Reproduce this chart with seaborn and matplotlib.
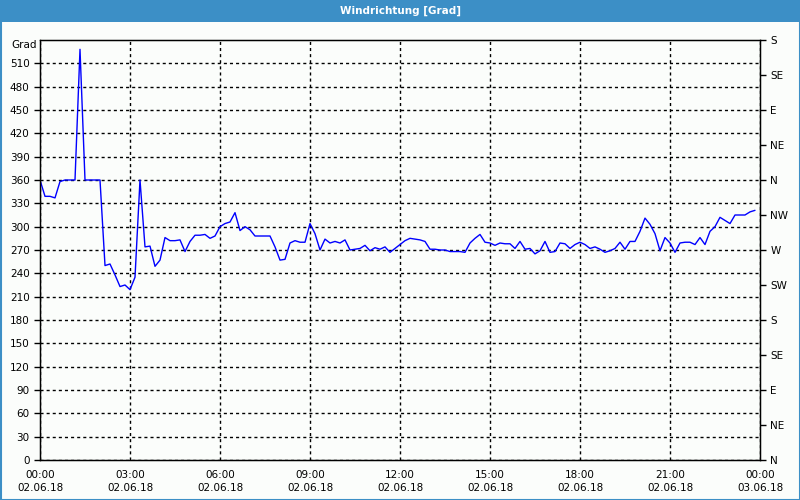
import pandas as pd
import matplotlib
matplotlib.use('Agg')
import matplotlib.pyplot as plt
import matplotlib.dates as mdates
import seaborn as sns

# Wind direction in degrees, every 10 minutes, 02.06.18 00:00 - 23:50
grad = [360, 339, 339, 337, 358, 360, 360, 360, 528, 360,
        360, 360, 360, 250, 252, 238, 223, 225, 219, 235,
        360, 274, 275, 249, 257, 286, 282, 282, 283, 268,
        281, 289, 289, 290, 285, 288, 300, 304, 306, 318,
        295, 300, 296, 288, 288, 288, 288, 274, 257, 258,
        279, 282, 280, 280, 304, 291, 270, 284, 279, 281,
        279, 283, 270, 271, 272, 276, 269, 273, 271, 274,
        267, 272, 277, 282, 285, 284, 283, 281, 271, 271,
        270, 270, 268, 268, 268, 267, 279, 285, 290, 280,
        279, 276, 279, 278, 278, 272, 281, 271, 272, 265,
        269, 281, 267, 268, 279, 278, 272, 277, 280, 277,
        272, 274, 271, 267, 269, 272, 280, 271, 281, 281,
        294, 311, 303, 291, 269, 286, 279, 267, 279, 280,
        280, 277, 286, 277, 294, 300, 312, 308, 304, 315,
        315, 315, 319, 321]
zeit = pd.date_range('2018-06-02 00:00', periods=len(grad), freq='10min')

left_ticks = list(range(0, 511, 30))
right_ticks = list(range(0, 541, 45))
right_labels = ['N', 'NE', 'E', 'SE', 'S', 'SW', 'W', 'NW', 'N', 'NE', 'E', 'SE', 'S']

df = pd.DataFrame({'Zeit': zeit, 'Grad': grad})

sns.set_style('white')
plt.rcParams['font.family'] = ['DejaVu Sans']

bg = '#fbfdfb'
blue_bar = '#3c8fc6'
dash = (0, (2.2, 2.2))

fig = plt.figure(figsize=(8, 5), dpi=100, facecolor=bg)
ax = fig.add_axes([0.05, 0.08, 0.90, 0.84])
ax.set_facecolor(bg)

sns.lineplot(data=df, x='Zeit', y='Grad', ax=ax, color='#0000ff', linewidth=1)

start = pd.Timestamp('2018-06-02 00:00')
end = pd.Timestamp('2018-06-03 00:00')
ax.set_xlim(start, end)
ax.set_ylim(0, 540)

ax.set_yticks(left_ticks)
ax.xaxis.set_major_locator(mdates.HourLocator(interval=3))
ax.xaxis.set_minor_locator(mdates.HourLocator(interval=1))
ax.xaxis.set_major_formatter(mdates.DateFormatter('%H:%M\n%d.%m.%y'))

ax.grid(True, which='major', color='black', linestyle=dash, linewidth=1)
ax.set_xlabel('')
ax.set_ylabel('')

for s in ax.spines.values():
    s.set_color('black')
    s.set_linewidth(1)

ax.tick_params(axis='both', which='major', direction='out', length=4, width=1,
               color='black', labelsize=7.5, labelcolor='black')
ax.tick_params(axis='x', which='minor', direction='out', length=3, width=1, color='black')
ax.tick_params(axis='x', which='major', pad=3)
for lbl in ax.get_xticklabels():
    lbl.set_linespacing(1.45)

ax2 = ax.twinx()
ax2.set_ylim(0, 540)
ax2.set_yticks(right_ticks)
ax2.set_yticklabels(right_labels)
ax2.tick_params(axis='y', direction='out', length=4, width=1, color='black',
                labelsize=7.5, labelcolor='black')
ax2.grid(False)
for s in ax2.spines.values():
    s.set_color('black')

ax.text(-0.005, 1.0, 'Grad', transform=ax.transAxes, ha='right', va='top',
        fontsize=7.5, color='black')

# title bar and window frame
fig.patches.append(plt.Rectangle((0, 1 - 22 / 500), 1, 22 / 500, transform=fig.transFigure,
                                 facecolor=blue_bar, edgecolor='none', zorder=0))
fig.text(0.5, 1 - 11 / 500, 'Windrichtung [Grad]', ha='center', va='center',
         color='white', fontsize=7.5, fontweight='bold')
fig.patches.append(plt.Rectangle((0.5 / 800, 0.5 / 500), 1 - 1 / 800, 1 - 1 / 500,
                                 transform=fig.transFigure, facecolor='none',
                                 edgecolor=blue_bar, linewidth=1.5, zorder=0))

fig.savefig('out.png', dpi=100, facecolor=bg)
